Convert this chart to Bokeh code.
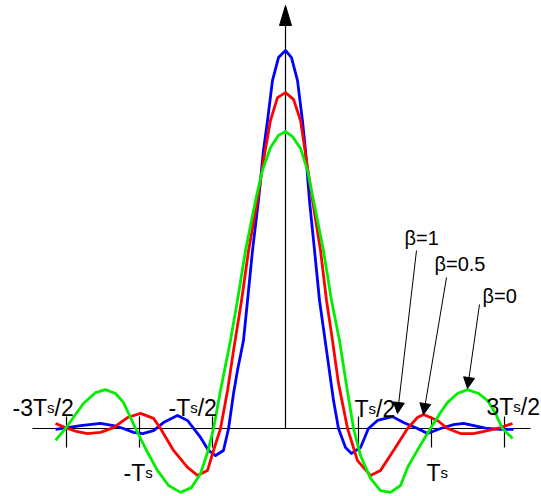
from bokeh.plotting import figure
from bokeh.models import Range1d, Label, Arrow, NormalHead
from bokeh.embed import file_html
from bokeh.resources import INLINE

# ---------------- data (time in units of Ts, amplitude: beta=0 peak = 1) ----------------
t_b0 = [-1.575, -1.507, -1.384, -1.301, -1.233, -1.164, -1.110, -1.027, -0.952, -0.877,
        -0.801, -0.719, -0.644, -0.582, -0.534, -0.493, -0.445, -0.377, -0.329, -0.274,
        -0.205, -0.158, -0.103, -0.048, 0.000, 0.048, 0.103, 0.151, 0.192, 0.260,
        0.315, 0.370, 0.418, 0.466, 0.514, 0.582, 0.651, 0.719, 0.788, 0.836,
        0.911, 0.993, 1.062, 1.110, 1.178, 1.247, 1.322, 1.384, 1.438, 1.486, 1.555]
y_b0 = [-0.040, 0.000, 0.084, 0.121, 0.131, 0.118, 0.088, 0.000, -0.074, -0.141,
        -0.192, -0.215, -0.199, -0.152, -0.081, 0.000, 0.128, 0.296, 0.431, 0.599,
        0.768, 0.869, 0.946, 0.987, 1.000, 0.983, 0.943, 0.869, 0.768, 0.599,
        0.431, 0.296, 0.145, 0.000, -0.091, -0.168, -0.209, -0.215, -0.192, -0.131,
        -0.067, 0.000, 0.054, 0.088, 0.118, 0.131, 0.118, 0.094, 0.051, 0.000, -0.034]

t_b05 = [-1.575, -1.507, -1.432, -1.356, -1.267, -1.178, -1.082, -0.993, -0.904, -0.856,
         -0.767, -0.671, -0.603, -0.534, -0.493, -0.445, -0.397, -0.356, -0.301, -0.253,
         -0.192, -0.151, -0.103, -0.055, 0.000, 0.055, 0.103, 0.144, 0.185, 0.240,
         0.281, 0.322, 0.363, 0.425, 0.493, 0.582, 0.651, 0.740, 0.836, 0.904,
         0.945, 1.041, 1.110, 1.199, 1.288, 1.384, 1.473, 1.555]
y_b05 = [0.017, 0.003, -0.010, -0.017, -0.013, 0.003, 0.037, 0.051, 0.034, 0.000,
         -0.074, -0.131, -0.158, -0.141, -0.074, 0.000, 0.128, 0.263, 0.431, 0.599,
         0.768, 0.902, 1.037, 1.114, 1.131, 1.108, 1.037, 0.902, 0.768, 0.599,
         0.431, 0.296, 0.152, 0.000, -0.108, -0.158, -0.141, -0.074, 0.000, 0.037,
         0.047, 0.027, 0.000, -0.017, -0.017, -0.007, 0.003, 0.017]

t_b1 = [-1.575, -1.493, -1.404, -1.267, -1.178, -1.110, -1.041, -0.979, -0.904, -0.836,
        -0.740, -0.671, -0.582, -0.527, -0.479, -0.425, -0.390, -0.356, -0.329, -0.288,
        -0.260, -0.226, -0.185, -0.151, -0.123, -0.089, -0.048, 0.000, 0.041, 0.082,
        0.116, 0.137, 0.164, 0.199, 0.233, 0.281, 0.329, 0.363, 0.411, 0.452,
        0.514, 0.568, 0.630, 0.733, 0.808, 0.904, 0.973, 1.062, 1.151, 1.219,
        1.315, 1.384, 1.473, 1.562]
y_b1 = [-0.003, 0.003, 0.010, 0.017, 0.010, 0.000, -0.013, -0.017, -0.007, 0.020,
        0.044, 0.027, -0.030, -0.074, -0.091, -0.074, 0.000, 0.118, 0.195, 0.296,
        0.431, 0.599, 0.768, 0.936, 1.037, 1.172, 1.249, 1.273, 1.249, 1.172,
        1.037, 0.936, 0.768, 0.599, 0.431, 0.263, 0.094, 0.000, -0.064, -0.084,
        -0.064, 0.000, 0.027, 0.040, 0.020, 0.000, -0.017, 0.000, 0.013, 0.017,
        0.007, 0.000, -0.003, -0.003]

tick_pos = [-1.5, -1.0, -0.5, 0.5, 1.0, 1.5]
tick_labels = [("-3T", "s", "/2"), ("-T", "s", ""), ("-T", "s", "/2"),
               ("T", "s", "/2"), ("T", "s", ""), ("3T", "s", "/2")]
beta_labels = ["\u03b2=1", "\u03b2=0.5", "\u03b2=0"]

# ---------------- geometry helpers (reference pixel -> data) ----------------
def X(px):
    return (px - 285) / 146.0

def Y(py):
    return (428 - py) / 297.0

W, H = 541, 496
p = figure(width=W, height=H, output_backend="svg", toolbar_location=None,
           x_axis_type=None, y_axis_type=None, min_border=0,
           x_range=Range1d(X(0), X(W)), y_range=Range1d(Y(H), Y(0)))
p.outline_line_color = None
p.grid.visible = False
p.background_fill_color = "white"
p.border_fill_color = "white"

# axes
p.line([X(32), X(530)], [0, 0], line_color="black", line_width=1.2)
p.line([0, 0], [0, Y(24)], line_color="black", line_width=1.2)
p.patch([X(279), X(291), X(285)], [Y(25), Y(25), Y(5)], fill_color="black", line_color="black")

# ticks
for tp in tick_pos:
    p.line([tp, tp], [Y(416), Y(447)], line_color="black", line_width=1.2)

# curves
p.line(t_b1, y_b1, line_color="#0000ff", line_width=2.8, line_join="round")
p.line(t_b05, y_b05, line_color="#ff0000", line_width=2.8, line_join="round")
p.line(t_b0, y_b0, line_color="#00ee00", line_width=2.8, line_join="round")

# tick labels (main text 23px, small "s" 15px on same baseline)
adv = {'-': 0.333, '3': 0.556, 'T': 0.611, '/': 0.278, '2': 0.556, 's': 0.5}
MAIN, SUB = 23, 15
label_pos = [(12, 407), (123, 472), (168, 407), (354, 408), (426, 472), (486, 406)]
for (pre, sub, post), (lx, ly) in zip(tick_labels, label_pos):
    off = 0.0
    for txt, size in ((pre, MAIN), (sub, SUB), (post, MAIN)):
        if txt:
            p.add_layout(Label(x=X(lx), y=Y(ly), x_offset=off, text=txt,
                               text_font="Liberation Sans", text_font_size=f"{size}px",
                               text_color="black", text_baseline="alphabetic",
                               text_align="left"))
            off += sum(adv[c] for c in txt) * size

# beta labels and arrows
beta_pos = [(404, 237), (434, 263), (482, 295)]
for txt, (lx, ly) in zip(beta_labels, beta_pos):
    p.add_layout(Label(x=X(lx), y=Y(ly), text=txt, text_font="Liberation Sans",
                       text_font_size="20px", text_color="black",
                       text_baseline="alphabetic", text_align="left"))

arrows = [((416, 250), (397, 413)), ((446, 277), (423, 414)), ((479, 304), (467, 388))]
for (sx, sy), (ex, ey) in arrows:
    p.add_layout(Arrow(x_start=X(sx), y_start=Y(sy), x_end=X(ex), y_end=Y(ey),
                       line_color="black", line_width=1,
                       end=NormalHead(size=11, fill_color="black", line_color="black")))

open("out.html", "w").write(file_html(p, INLINE))
